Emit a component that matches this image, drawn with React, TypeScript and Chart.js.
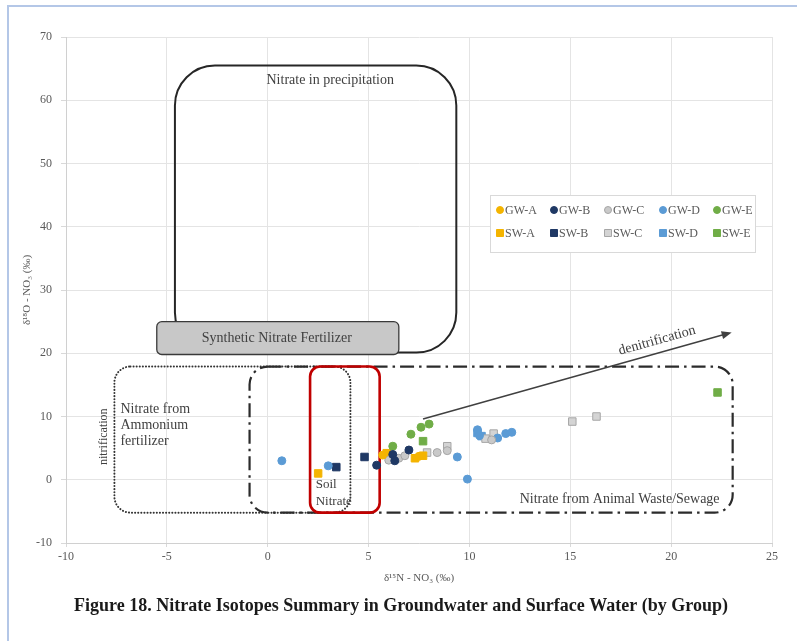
import React, { useEffect, useRef } from "react";
import { Chart, registerables } from "chart.js";

Chart.register(...registerables);

const SERIF = "'Liberation Serif', 'Times New Roman', serif";

// ---- data (δ15N, δ18O) ----
const seriesNames = ["GW-A", "GW-B", "GW-C", "GW-D", "GW-E", "SW-A", "SW-B", "SW-C", "SW-D", "SW-E"];
const gwA: [number, number][] = [[5.7, 3.9], [7.5, 3.7]];
const gwB: [number, number][] = [[5.4, 2.3], [6.2, 4.0], [6.3, 3.0], [7.0, 4.7]];
const gwC: [number, number][] = [[6.0, 3.1], [6.5, 3.4], [6.8, 3.8], [8.4, 4.3], [8.9, 4.6], [11.1, 6.3]];
const gwD: [number, number][] = [[0.7, 3.0], [3.0, 2.2], [9.4, 3.6], [9.9, 0.1], [10.4, 7.9], [10.5, 7.0], [11.4, 6.6], [11.8, 7.3], [12.1, 7.5]];
const gwE: [number, number][] = [[6.2, 5.3], [7.1, 7.2], [7.6, 8.3], [8.0, 8.8]];
const swA: [number, number][] = [[2.5, 1.0], [5.9, 4.2], [7.3, 3.4], [7.7, 3.8]];
const swB: [number, number][] = [[3.4, 2.0], [4.8, 3.6]];
const swC: [number, number][] = [[6.2, 3.4], [7.9, 4.3], [8.9, 5.3], [10.8, 6.5], [11.2, 7.3], [15.1, 9.2], [16.3, 10.0]];
const swD: [number, number][] = [[10.4, 7.4], [10.6, 6.9]];
const swE: [number, number][] = [[7.7, 6.1], [22.3, 13.8]];
const seriesData = [gwA, gwB, gwC, gwD, gwE, swA, swB, swC, swD, swE];

const fillColors = ["#F4B400", "#1F3864", "#C9C9C9", "#5B9BD5", "#70AD47", "#F4B400", "#1F3864", "#D4D4D4", "#5B9BD5", "#70AD47"];
const edgeColors = ["#F4B400", "#1F3864", "#A6A6A6", "#5B9BD5", "#70AD47", "#F4B400", "#1F3864", "#A6A6A6", "#5B9BD5", "#70AD47"];

// axis settings
const xMin = -10, xMax = 25, xStep = 5;
const yMin = -10, yMax = 70, yStep = 10;
const xTitle = "δ¹⁵N - NO₃ (‰)";
const yTitle = "δ¹⁸O - NO₃ (‰)";
const caption = "Figure 18. Nitrate Isotopes Summary in Groundwater and Surface Water (by Group)";

// ---- annotation regions (data units) ----
const precipBox = { x0: -4.6, x1: 9.35, y0: 20.1, y1: 65.5 };
const syntheticBox = { x0: -5.5, x1: 6.5, y0: 19.8, y1: 25.0 };
const ammoniumBox = { x0: -7.6, x1: 4.1, y0: -5.2, y1: 17.9 };
const animalBox = { x0: -0.9, x1: 23.05, y0: -5.2, y1: 17.9 };
const soilBox = { x0: 2.1, x1: 5.55, y0: -5.2, y1: 17.9 };
const denitArrow = { x0: 7.7, y0: 9.6, x1: 23.0, y1: 23.3 };

function rr(ctx: CanvasRenderingContext2D, l: number, t: number, r: number, b: number, rad: number) {
  const R = Math.min(rad, (r - l) / 2, (b - t) / 2);
  ctx.beginPath();
  ctx.moveTo(l + R, t);
  ctx.lineTo(r - R, t);
  ctx.arcTo(r, t, r, t + R, R);
  ctx.lineTo(r, b - R);
  ctx.arcTo(r, b, r - R, b, R);
  ctx.lineTo(l + R, b);
  ctx.arcTo(l, b, l, b - R, R);
  ctx.lineTo(l, t + R);
  ctx.arcTo(l, t, l + R, t, R);
  ctx.closePath();
}

const annotationPlugin = {
  id: "nitrateAnnotations",
  beforeDatasetsDraw(chart: any) {
    const { ctx } = chart;
    const xs = chart.scales.x, ys = chart.scales.y;
    const X = (v: number) => xs.getPixelForValue(v);
    const Y = (v: number) => ys.getPixelForValue(v);
    const box = (b: any, rad: number) => rr(ctx, X(b.x0), Y(b.y1), X(b.x1), Y(b.y0), rad);
    ctx.save();
    ctx.setLineDash([]);

    // Nitrate in precipitation
    box(precipBox, 40);
    ctx.lineWidth = 2;
    ctx.strokeStyle = "#262626";
    ctx.stroke();

    // Synthetic nitrate fertilizer
    box(syntheticBox, 5);
    ctx.fillStyle = "#C8C8C8";
    ctx.fill();
    ctx.lineWidth = 1.3;
    ctx.strokeStyle = "#3A3A3A";
    ctx.stroke();

    // Ammonium fertilizer (dotted)
    box(ammoniumBox, 16);
    ctx.lineWidth = 2;
    ctx.lineCap = "round";
    ctx.setLineDash([0.1, 3]);
    ctx.strokeStyle = "#333333";
    ctx.stroke();

    // Animal waste / sewage (dash-dot)
    box(animalBox, 18);
    ctx.lineCap = "butt";
    ctx.lineWidth = 2.2;
    ctx.setLineDash([14, 5, 2.5, 5]);
    ctx.strokeStyle = "#2B2B2B";
    ctx.stroke();

    // Soil nitrate (red)
    ctx.setLineDash([]);
    box(soilBox, 10);
    ctx.lineWidth = 2.6;
    ctx.strokeStyle = "#C00000";
    ctx.stroke();

    // denitrification arrow
    const ax0 = X(denitArrow.x0), ay0 = Y(denitArrow.y0), ax1 = X(denitArrow.x1), ay1 = Y(denitArrow.y1);
    const ang = Math.atan2(ay1 - ay0, ax1 - ax0);
    ctx.beginPath();
    ctx.moveTo(ax0, ay0);
    ctx.lineTo(ax1 - 6 * Math.cos(ang), ay1 - 6 * Math.sin(ang));
    ctx.lineWidth = 1.5;
    ctx.strokeStyle = "#404040";
    ctx.stroke();
    ctx.beginPath();
    ctx.moveTo(ax1, ay1);
    ctx.lineTo(ax1 - 10 * Math.cos(ang) + 4 * Math.sin(ang), ay1 - 10 * Math.sin(ang) - 4 * Math.cos(ang));
    ctx.lineTo(ax1 - 10 * Math.cos(ang) - 4 * Math.sin(ang), ay1 - 10 * Math.sin(ang) + 4 * Math.cos(ang));
    ctx.closePath();
    ctx.fillStyle = "#404040";
    ctx.fill();

    // texts
    ctx.fillStyle = "#404040";
    ctx.font = `14px ${SERIF}`;
    ctx.textBaseline = "middle";
    ctx.textAlign = "center";
    ctx.fillText("Nitrate in precipitation", X(3.1), Y(63.1));
    ctx.fillText("Synthetic Nitrate Fertilizer", X(0.45), Y(22.3));

    ctx.textAlign = "left";
    ctx.fillText("Nitrate from", X(-7.3), Y(11.2));
    ctx.fillText("Ammonium", X(-7.3), Y(8.55));
    ctx.fillText("fertilizer", X(-7.3), Y(6.0));

    ctx.textAlign = "right";
    ctx.fillText("Nitrate from Animal Waste/Sewage", X(22.4), Y(-3.15));

    ctx.font = `13px ${SERIF}`;
    ctx.textAlign = "left";
    ctx.fillText("Soil", X(2.38), Y(-0.8));
    ctx.fillText("Nitrate", X(2.38), Y(-3.5));

    ctx.save();
    ctx.translate(X(19.3), Y(22.0));
    ctx.rotate(ang);
    ctx.textAlign = "center";
    ctx.font = `14px ${SERIF}`;
    ctx.fillText("denitrification", 0, 0);
    ctx.restore();

    ctx.save();
    ctx.translate(X(-8.13), Y(6.8));
    ctx.rotate(-Math.PI / 2);
    ctx.textAlign = "center";
    ctx.font = `12px ${SERIF}`;
    ctx.fillText("nitrification", 0, 0);
    ctx.restore();

    ctx.restore();
  },
  afterDraw(chart: any) {
    const { ctx } = chart;
    ctx.save();
    // legend box
    const lx = 490, ly = 195, lw = 265, lh = 57;
    ctx.fillStyle = "#FFFFFF";
    ctx.fillRect(lx, ly, lw, lh);
    ctx.strokeStyle = "#D9D9D9";
    ctx.lineWidth = 1;
    ctx.strokeRect(lx + 0.5, ly + 0.5, lw, lh);
    const cols = [500, 554, 608, 663, 717];
    const rows = [210, 233];
    ctx.font = `12px ${SERIF}`;
    ctx.textBaseline = "middle";
    ctx.textAlign = "left";
    chart.data.datasets.forEach((ds: any, i: number) => {
      const cx = cols[i % 5], cy = rows[Math.floor(i / 5)];
      ctx.fillStyle = ds.backgroundColor;
      ctx.strokeStyle = ds.borderColor;
      ctx.lineWidth = 1;
      ctx.beginPath();
      if (ds.pointStyle === "rect") ctx.rect(cx - 3.5, cy - 3.5, 7, 7);
      else ctx.arc(cx, cy, 3.5, 0, Math.PI * 2);
      ctx.fill();
      ctx.stroke();
      ctx.fillStyle = "#595959";
      ctx.fillText(ds.label, cx + 5, cy + 0.5);
    });
    // caption
    ctx.font = `bold 18px ${SERIF}`;
    ctx.fillStyle = "#1A1A1A";
    ctx.textAlign = "center";
    ctx.fillText(caption, 401, 606);
    ctx.restore();
  },
};

export default function App() {
  const ref = useRef<HTMLCanvasElement>(null);
  useEffect(() => {
    const datasets = seriesNames.map((name, i) => ({
      label: name,
      data: seriesData[i].map(([x, y]) => ({ x, y })),
      pointStyle: name.startsWith("GW") ? "circle" : "rect",
      pointRadius: name.startsWith("GW") ? 4 : 5.3,
      backgroundColor: fillColors[i],
      borderColor: edgeColors[i],
      borderWidth: 1,
      showLine: false,
    }));
    const tickFont = { family: SERIF, size: 12 };
    const chart = new Chart(ref.current as HTMLCanvasElement, {
      type: "scatter",
      data: { datasets } as any,
      plugins: [annotationPlugin as any],
      options: {
        responsive: false,
        animation: false,
        devicePixelRatio: 1,
        layout: { padding: { left: 17, right: 25, top: 37, bottom: 52 } },
        plugins: { legend: { display: false }, tooltip: { enabled: false }, title: { display: false } },
        scales: {
          x: {
            type: "linear",
            min: xMin,
            max: xMax,
            ticks: { stepSize: xStep, color: "#595959", font: tickFont, padding: 3 },
            grid: { color: "#E4E4E4", tickLength: 4, tickColor: "#D9D9D9" },
            border: { color: "#D0D0D0" },
            title: { display: true, text: xTitle, color: "#595959", font: { family: SERIF, size: 11 } },
            afterFit: (s: any) => { s.height = 46; },
          },
          y: {
            type: "linear",
            min: yMin,
            max: yMax,
            ticks: { stepSize: yStep, color: "#595959", font: tickFont, padding: 9 },
            grid: { color: "#E4E4E4", tickLength: 5, tickColor: "#D9D9D9" },
            border: { color: "#D0D0D0" },
            title: { display: true, text: yTitle, color: "#595959", font: { family: SERIF, size: 11 } },
            afterFit: (s: any) => { s.width = 49; },
          },
        },
      } as any,
    });
    return () => chart.destroy();
  }, []);
  return (
    <div style={{ position: "fixed", left: 0, top: 0, width: 797, height: 641, background: "#FFFFFF", overflow: "hidden" }}>
      <div style={{ position: "absolute", left: 7, top: 5, width: 840, height: 720, border: "2px solid #B4C7E7", boxSizing: "border-box" }} />
      <canvas ref={ref} width={797} height={641} style={{ position: "absolute", left: 0, top: 0, width: 797, height: 641 }} />
    </div>
  );
}
